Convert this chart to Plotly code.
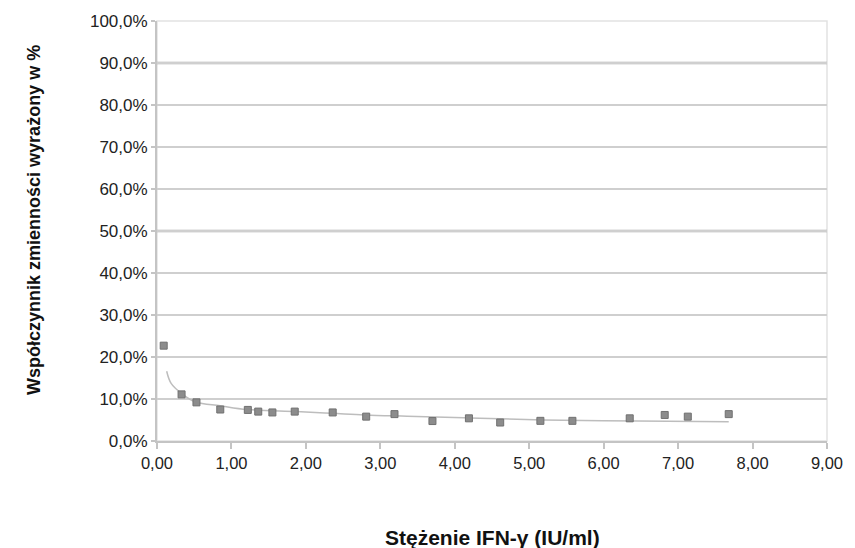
import plotly.graph_objects as go

# Measured data (IFN-gamma concentration IU/ml vs coefficient of variation)
conc = [0.09, 0.33, 0.53, 0.85, 1.22, 1.36, 1.55, 1.85, 2.36, 2.81,
        3.19, 3.70, 4.19, 4.61, 5.15, 5.58, 6.35, 6.82, 7.13, 7.68]
cv_pct = [22.7, 11.1, 9.2, 7.5, 7.4, 7.0, 6.8, 7.0, 6.8, 5.8,
          6.4, 4.75, 5.4, 4.4, 4.8, 4.8, 5.4, 6.2, 5.8, 6.4]

# Trend line
trend_x = [0.13, 0.19, 0.33, 0.52, 0.85, 1.21, 1.87, 2.35, 2.79, 3.36, 4.20, 5.19, 6.45, 7.68]
trend_pct = [16.6, 13.7, 11.3, 9.3, 8.4, 7.5, 7.0, 6.6, 6.2, 5.9, 5.5, 5.0, 4.75, 4.6]

y_ticks = [i / 10 for i in range(11)]
x_ticks = list(range(10))

cv = [v / 100 for v in cv_pct]
trend = [v / 100 for v in trend_pct]

FONT = "Liberation Sans, Arial, sans-serif"

fig = go.Figure()
fig.add_trace(go.Scatter(
    x=trend_x, y=trend, mode="lines", line=dict(color="#bdbdbd", width=1.5, shape="spline"),
    hoverinfo="skip", showlegend=False))
fig.add_trace(go.Scatter(
    x=conc, y=cv, mode="markers",
    marker=dict(symbol="square", size=7, color="#8c8c8c", line=dict(color="#707070", width=1)),
    showlegend=False))

shapes = [dict(type="rect", xref="paper", yref="paper", x0=0, x1=1, y0=0, y1=1,
               line=dict(color="#e2e2e2", width=1.5), layer="below")]
for lvl in (0.9, 0.5):
    shapes.append(dict(type="line", xref="paper", yref="y", x0=0, x1=1, y0=lvl, y1=lvl,
                       line=dict(color="#ababab", width=2.5), layer="below"))

fig.update_layout(
    width=855, height=548,
    margin=dict(l=157, r=18, t=21, b=107),
    paper_bgcolor="white", plot_bgcolor="white",
    separators=", ",
    font=dict(family=FONT, size=17, color="#222222"),
    shapes=shapes,
    xaxis=dict(range=[0, 9], tickvals=x_ticks, tickformat=".2f", showgrid=False,
               showline=True, linecolor="#c4c4c4", linewidth=2,
               ticks="outside", ticklen=6, tickcolor="#c4c4c4", tickwidth=1.5,
               zeroline=False, tickfont=dict(size=16.5, color="#222222")),
    yaxis=dict(range=[0, 1], tickvals=y_ticks, tickformat=".1%", showgrid=True,
               gridcolor="#cfcfcf", gridwidth=1.5,
               showline=True, linecolor="#c4c4c4", linewidth=2,
               ticks="outside", ticklen=4, tickcolor="#c4c4c4", tickwidth=1.5,
               zeroline=False, tickfont=dict(size=17, color="#222222")),
    annotations=[
        dict(text="<b>Stężenie IFN-γ (IU/ml)</b>", xref="paper", yref="paper",
             x=0.5, y=-0.2286, xanchor="center", yanchor="middle", showarrow=False,
             font=dict(family=FONT, size=21, color="#111111")),
        dict(text="<b>Współczynnik zmienności wyrażony w %</b>", xref="paper", yref="paper",
             x=-0.1838, y=0.526, xanchor="center", yanchor="middle", showarrow=False,
             textangle=-90, font=dict(family=FONT, size=18, color="#111111")),
    ],
)

fig.write_html("out.html")
